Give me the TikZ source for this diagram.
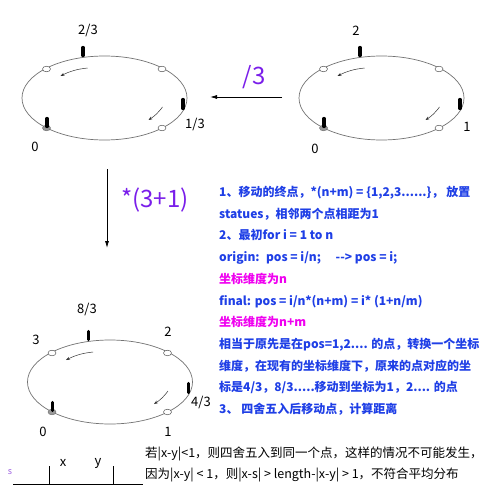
\documentclass[tikz,border=0pt]{standalone}
\usepackage{fontspec}
\newfontfamily\cjk{Noto Sans CJK SC}
\usetikzlibrary{arrows.meta}
\definecolor{notblue}{HTML}{1F3FE6}
\definecolor{dimpink}{HTML}{F000F0}
\definecolor{opviolet}{HTML}{7A1EEA}
\definecolor{sviolet}{HTML}{9A5AE0}
\begin{document}
\begin{tikzpicture}[x=1pt, y=-1pt,
  ring/.style={draw=black!55, line width=0.7pt},
  hole/.style={draw=black!65, fill=white, line width=0.5pt},
  base/.style={draw=black!55, fill=black!40, line width=0.5pt},
  statue/.style={line width=3.3pt, line cap=round},
  drift/.style={black!80, line width=0.5pt, -{Stealth[length=4pt,width=3pt]}},
  move/.style={line width=0.8pt, -{Latex[length=7pt,width=4pt]}},
  tag/.style={font=\cjk\fontsize{13}{13}\selectfont, inner sep=0pt},
  op/.style={font=\cjk\fontsize{24}{24}\selectfont, text=opviolet, inner sep=0pt},
  note/.style={font=\cjk\bfseries\fontsize{12}{12}\selectfont, text=notblue, anchor=base west, inner sep=0pt},
  dim/.style={note, text=dimpink},
  remark/.style={font=\cjk\fontsize{12.5}{12.5}\selectfont, anchor=base west, inner sep=0pt}]
  \fill[white] (0,0) rectangle (500,500);
  \useasboundingbox (0,0) rectangle (500,500);
  % the three rings of statues
  \foreach \cx/\cy in {104.5/98, 381.5/98, 110/382} {
    \begin{scope}[shift={(\cx,\cy)}]
      \draw[ring] (0,0) ellipse [x radius=82.5pt, y radius=42pt];
      \draw[hole] (-58,-29) ellipse [x radius=4pt, y radius=2.8pt];
      \draw[hole] (57.5,-29) ellipse [x radius=4pt, y radius=2.8pt];
      \draw[hole] (57.5,30) ellipse [x radius=4pt, y radius=2.8pt];
      \draw[base] (-58,30) ellipse [x radius=4pt, y radius=2.8pt];
      \draw[statue] (-21.5,-42.5) -- (-21.5,-50.5);
      \draw[statue] (78.5,10.5) -- (78.5,1.5);
      \draw[statue] (-57.5,28.5) -- (-57.5,20.5);
      \draw[drift] (-17,-30) to[bend right=10] (-44,-22);
      \draw[drift] (58,9) to[bend left=10] (44,22);
    \end{scope}
  }
  % labels of the rings
  \node[tag] (a23) at (88,31) {2/3};
  \node[tag] (a13) at (195,125) {1/3};
  \node[tag] (a0) at (35,147) {0};
  \node[tag] (b2) at (356,31) {2};
  \node[tag] (b1) at (467,127) {1};
  \node[tag] (b0) at (315,149) {0};
  \node[tag] (c83) at (87,309) {8/3};
  \node[tag] (c3) at (36,340) {3};
  \node[tag] (c2) at (168,332) {2};
  \node[tag] (c43) at (201,402) {4/3};
  \node[tag] (c0) at (43,432) {0};
  \node[tag] (c1) at (168,432) {1};
  % moves between the rings
  \coordinate (r) at (282,97);
  \coordinate (l) at (210,97);
  \draw[move] (r) -- (l);
  \node[op] (div) at (254,77) {/3};
  \coordinate (u) at (107,169);
  \coordinate (d) at (107,248);
  \draw[move] (u) -- (d);
  \node[op] (mul) at (155,200) {*(3+1)};
  % notes
  \node[note] (n1) at (219,196.5) {1、移动的终点，*(n+m) = \{1,2,3......\}， 放置};
  \node[note] (n2) at (219,218.2) {statues，相邻两个点相距为1};
  \node[note] (n3) at (219,239.9) {2、最初for i = 1 to n};
  \node[note] (n4) at (219,261.6) {origin:~ pos = i/n;\quad~-\kern0pt-> pos = i;};
  \node[dim] (n5) at (219,283.3) {坐标维度为n};
  \node[note] (n6) at (219,305) {final: pos = i/n*(n+m) = i* (1+n/m)};
  \node[dim] (n7) at (219,326.7) {坐标维度为n+m};
  \node[note] (n8) at (219,348.4) {相当于原先是在pos=1,2.... 的点，转换一个坐标};
  \node[note] (n9) at (219,370.1) {维度，在现有的坐标维度下，原来的点对应的坐};
  \node[note] (n10) at (219,391.8) {标是4/3，8/3.....移动到坐标为1，2.... 的点};
  \node[note] (n11) at (219,413.5) {3、 四舍五入后移动点，计算距离};
  % the segment
  \coordinate (s0) at (13,484);
  \coordinate (s1) at (143,484);
  \coordinate (t1) at (49,466);
  \coordinate (t2) at (113,466);
  \draw[line width=0.8pt] (s0) -- (s1);
  \draw[line width=0.8pt] (t1) -- (t1 |- s0);
  \draw[line width=0.8pt] (t2) -- (t2 |- s0);
  \node[tag] (x) at (63,463) {x};
  \node[tag] (y) at (98,463) {y};
  \node[font=\cjk\fontsize{9}{9}\selectfont, text=sviolet, inner sep=0pt] (s) at (10,472) {s};
  \node[remark] (m1) at (145,457.7) {若|x-y|<1，则四舍五入到同一个点，这样的情况不可能发生，};
  \node[remark] (m2) at (145,478.7) {因为|x-y| < 1，则|x-s| > length-|x-y| > 1，不符合平均分布};
\end{tikzpicture}
\end{document}
